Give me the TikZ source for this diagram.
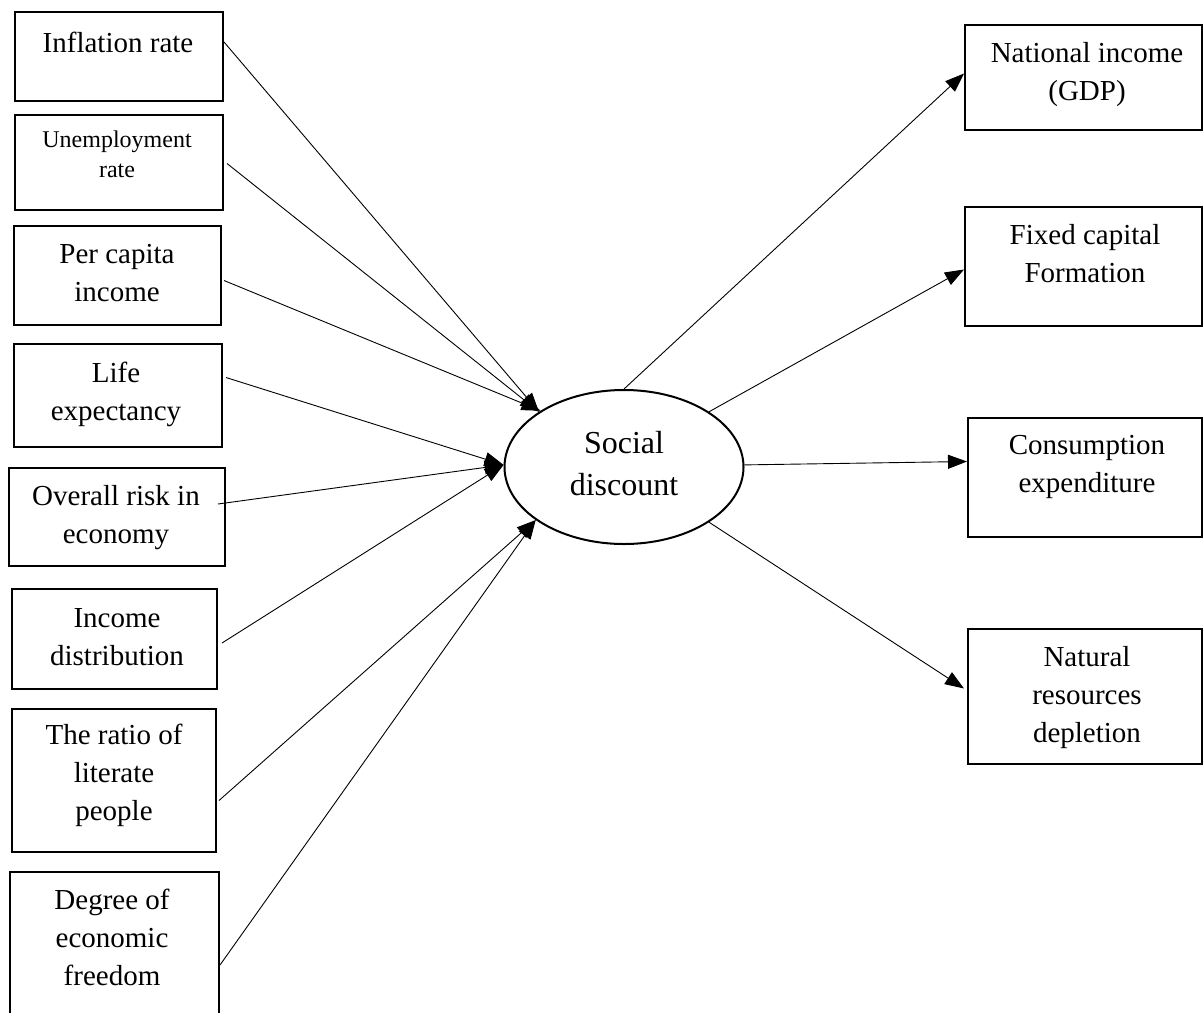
\documentclass[tikz,border=0pt]{standalone}
\usepackage{fontspec}
\setmainfont{Liberation Serif}
\usetikzlibrary{arrows.meta, positioning, shapes.geometric, calc}
\tikzset{
factor/.style={
draw=black,
line width=2pt,
anchor=north west,
inner sep=0pt
},
hub/.style={
draw=black,
ellipse,
line width=2pt,
minimum width=239pt,
minimum height=154pt,
inner sep=0pt
},
labeltext/.style={
font=\fontsize{29}{38}\selectfont,
align=center,
anchor=base,
inner sep=0pt
},
labelsmall/.style={
font=\fontsize{24}{30}\selectfont,
align=center,
anchor=base,
inner sep=0pt
},
labelhub/.style={
font=\fontsize{32}{42}\selectfont,
align=center,
anchor=base,
inner sep=0pt
},
arrow/.style={
-{Triangle[length=19pt,width=14pt]},
line width=0.9pt,
draw=black
}
}

\begin{document}
\begin{tikzpicture}[x=1pt, y=-1pt]
\useasboundingbox (0,0) rectangle (1204,1012);
\clip (0,0) rectangle (1204,1012);

% causes, left column
\node[factor, minimum width=208pt, minimum height=89pt] (inflation) at (14,11) {};
\node[factor, minimum width=208pt, minimum height=95pt] (unemployment) at (14,114) {};
\node[factor, minimum width=207pt, minimum height=99pt] (percapita) at (13,225) {};
\node[factor, minimum width=208pt, minimum height=103pt] (life) at (13,343) {};
\node[factor, minimum width=216pt, minimum height=98pt] (risk) at (8,467) {};
\node[factor, minimum width=205pt, minimum height=100pt] (income) at (11,588) {};
\node[factor, minimum width=204pt, minimum height=143pt] (ratio) at (11,708) {};
\node[factor, minimum width=209pt, minimum height=160pt] (degree) at (9,871) {};

% text anchored on its last baseline
\node[labeltext] (inflationtext) at (118,52) {Inflation rate};
\node[labelsmall] (unemploymenttext) at (117,177) {Unemployment\\rate};
\node[labeltext] (percapitatext) at (117,301) {Per capita\\income};
\node[labeltext] (lifetext) at (116,420) {Life\\expectancy};
\node[labeltext] (risktext) at (116,543) {Overall risk in\\economy};
\node[labeltext] (incometext) at (117,665) {Income\\distribution};
\node[labeltext] (ratiotext) at (114,820) {The ratio of\\literate\\people};
\node[labeltext] (degreetext) at (112,985) {Degree of\\economic\\freedom};

% social discount
\node[hub] (discount) at (624,467) {};
\node[labelhub] (discounttext) at (624,495) {Social\\discount};

% effects, right column
\node[factor, minimum width=237pt, minimum height=105pt] (national) at (964,24) {};
\node[factor, minimum width=237pt, minimum height=119pt] (fixed) at (964,206) {};
\node[factor, minimum width=234pt, minimum height=119pt] (consumption) at (967,417) {};
\node[factor, minimum width=234pt, minimum height=135pt] (natural) at (967,628) {};

\node[labeltext] (nationaltext) at (1087,100) {National income\\(GDP)};
\node[labeltext] (fixedtext) at (1085,282) {Fixed capital\\Formation};
\node[labeltext] (consumptiontext) at (1087,492) {Consumption\\expenditure};
\node[labeltext] (naturaltext) at (1087,742) {Natural\\resources\\depletion};

% arrows in
\draw[arrow] ($(inflation.north east)+(0,31)$) -- (discount.147);
\draw[arrow] ($(unemployment.east)+(3,1)$) -- (discount.147);
\draw[arrow] ($(percapita.east)+(2,5)$) -- (discount.146);
\draw[arrow] ($(life.east)+(3,-18)$) -- (discount.179);
\draw[arrow] ($(risk.east)+(-8,-13)$) -- (discount.179);
\draw[arrow] ($(income.east)+(4,4)$) -- (discount.179);
\draw[arrow] ($(ratio.east)+(2,20)$) -- (discount.211);
\draw[arrow] ($(degree.north east)+(0,94)$) -- (discount.211);

% arrows out
\draw[arrow] (discount.north) -- ($(national.west)+(0,-4)$);
\draw[arrow] (discount.33) -- ($(fixed.west)+(0,3)$);
\draw[arrow] (discount.1) -- ($(consumption.west)+(0,-16)$);
\draw[arrow] (discount.-33) -- ($(natural.west)+(-3,-8)$);

\end{tikzpicture}
\end{document}
